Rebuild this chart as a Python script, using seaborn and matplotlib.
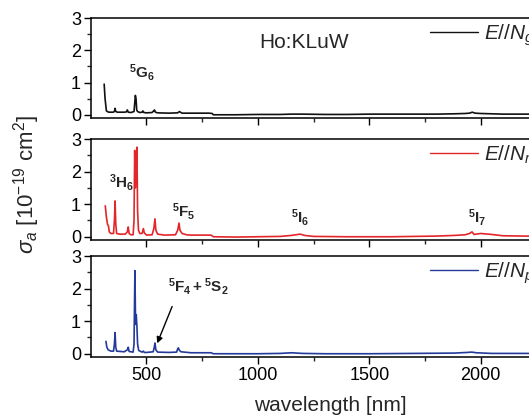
import matplotlib
matplotlib.use("Agg")
import matplotlib.pyplot as plt
import seaborn as sns
import pandas as pd

# ---- data ----
wl_g = [310, 314, 320, 330, 350, 356, 359, 362, 370, 400, 410, 414, 418, 430, 444, 447, 450, 453, 456,
        460, 470, 480, 484, 488, 500, 525, 532, 536, 540, 550, 600, 640, 648, 652, 660, 700, 780, 795,
        800, 900, 1000, 1100, 1150, 1200, 1300, 1400, 1500, 1600, 1700, 1800, 1880, 1930, 1950, 1962,
        1975, 2000, 2050, 2100, 2200, 2300, 2400]
sig_g = [0.95, 0.5, 0.12, 0.08, 0.08, 0.1, 0.2, 0.1, 0.08, 0.08, 0.09, 0.15, 0.08, 0.07, 0.1, 0.35, 0.6,
         0.5, 0.15, 0.1, 0.07, 0.08, 0.12, 0.07, 0.06, 0.07, 0.12, 0.15, 0.08, 0.06, 0.05, 0.06, 0.1,
         0.08, 0.05, 0.05, 0.05, 0.04, 0.0, 0.0, 0.01, 0.01, 0.02, 0.02, 0.01, 0.01, 0.02, 0.02, 0.02,
         0.02, 0.03, 0.04, 0.05, 0.08, 0.05, 0.04, 0.03, 0.02, 0.02, 0.02, 0.02]

wl_m = [315, 320, 325, 329, 333, 340, 352, 356, 359, 362, 366, 380, 405, 414, 418, 422, 430, 440, 444,
        447, 450, 453, 457, 460, 464, 470, 480, 486, 490, 500, 525, 533, 538, 542, 550, 580, 630, 640,
        646, 650, 660, 680, 700, 790, 800, 900, 1000, 1100, 1150, 1190, 1210, 1250, 1400, 1600, 1800,
        1880, 1930, 1950, 1961, 1970, 2000, 2050, 2100, 2200, 2400]
sig_m = [0.95, 0.6, 0.38, 0.34, 0.15, 0.1, 0.1, 0.5, 1.1, 0.4, 0.1, 0.08, 0.08, 0.15, 0.3, 0.1, 0.06,
         0.06, 0.5, 2.65, 1.5, 2.0, 2.75, 0.8, 0.2, 0.1, 0.1, 0.25, 0.12, 0.05, 0.06, 0.25, 0.55, 0.2,
         0.08, 0.05, 0.06, 0.2, 0.42, 0.2, 0.1, 0.06, 0.05, 0.05, 0.0, -0.01, 0.0, 0.01, 0.04, 0.08,
         0.04, 0.01, 0.0, 0.0, 0.02, 0.04, 0.06, 0.1, 0.15, 0.07, 0.1, 0.07, 0.03, 0.02, 0.02]

wl_p = [318, 322, 328, 340, 352, 356, 359, 362, 366, 400, 414, 418, 422, 440, 444, 448, 451, 454, 457,
        460, 465, 480, 486, 490, 500, 530, 535, 538, 542, 550, 600, 635, 640, 643, 648, 655, 700, 790,
        800, 900, 1000, 1100, 1150, 1200, 1300, 1500, 1700, 1880, 1940, 1960, 1980, 2050, 2200, 2400]
sig_p = [0.38, 0.2, 0.12, 0.08, 0.08, 0.3, 0.65, 0.2, 0.08, 0.06, 0.12, 0.2, 0.07, 0.05, 0.3, 2.55,
         0.9, 1.2, 0.85, 0.3, 0.1, 0.05, 0.08, 0.04, 0.04, 0.06, 0.2, 0.33, 0.12, 0.05, 0.04, 0.05,
         0.15, 0.18, 0.1, 0.06, 0.03, 0.03, 0.0, 0.0, 0.0, 0.01, 0.03, 0.01, 0.0, 0.0, 0.01, 0.02,
         0.04, 0.05, 0.03, 0.01, 0.01, 0.01]

series_labels = [r"$E//N_g$", r"$E//N_m$", r"$E//N_p$"]
series_colors = ["#111111", "#e3262a", "#233a9a"]

# ---- styling ----
sns.set_style("ticks")
plt.rcParams["font.family"] = ["Liberation Sans", "DejaVu Sans"]
plt.rcParams["mathtext.fontset"] = "custom"
plt.rcParams["mathtext.rm"] = "Liberation Sans"
plt.rcParams["mathtext.it"] = "Liberation Sans:italic"
plt.rcParams["mathtext.bf"] = "Liberation Sans:bold"
plt.rcParams["mathtext.sf"] = "Liberation Sans"

fig = plt.figure(figsize=(5.29, 4.19), dpi=100)
H = 419.0
W = 529.0
left = 90.8 / W
width = (569.8 - 90.8) / W
tops = [18, 139, 256]
bots = [118, 240, 357]

datasets = [(wl_g, sig_g), (wl_m, sig_m), (wl_p, sig_p)]
axes = []
for i, (wl, sg) in enumerate(datasets):
    ax = fig.add_axes([left, 1 - bots[i] / H, width, (bots[i] - tops[i]) / H])
    df = pd.DataFrame({"wavelength": wl, "sigma": sg})
    sns.lineplot(data=df, x="wavelength", y="sigma", ax=ax, color=series_colors[i],
                 linewidth=1.2, label=series_labels[i], sort=False)
    ax.set_xlim(250, 2400)
    ax.set_ylim(-0.1, 3)
    ax.set_yticks([0, 1, 2, 3])
    ax.set_yticks([0.5, 1.5, 2.5], minor=True)
    ax.set_xticks([500, 1000, 1500, 2000])
    ax.set_xticks([750, 1250, 1750, 2250], minor=True)
    ax.tick_params(axis="both", which="major", direction="out", length=5, width=1.0,
                   labelsize=13, pad=2, colors="black")
    ax.tick_params(axis="both", which="minor", direction="out", length=3, width=1.0)
    for s in ax.spines.values():
        s.set_visible(True)
        s.set_linewidth(1.1)
        s.set_color("black")
    ax.set_xlabel("")
    ax.set_ylabel("")
    if i < 2:
        ax.set_xticklabels([])
    leg = ax.legend(loc="upper left", bbox_to_anchor=(0.69, 1.04), frameon=False,
                    fontsize=15, handlelength=2.3, handletextpad=0.3, borderaxespad=0)
    for ln in leg.get_lines():
        ln.set_linewidth(1.0)
    axes.append(ax)

axes[2].set_xlabel("wavelength [nm]", fontsize=15, labelpad=9)
fig.text(27 / W, 1 - 185 / H, r"$\sigma_a\ [10^{-19}\ \mathrm{cm}^2]$", rotation=90,
         ha="center", va="center", fontsize=16)

axes[0].text(1205, 2.24, "Ho:KLuW", fontsize=15, ha="center", va="center")
axes[0].text(421, 1.3, r"$\mathbf{^5G_6}$", fontsize=11, ha="left", va="center")
axes[1].text(332, 1.65, r"$\mathbf{^3H_6}$", fontsize=11, ha="left", va="center")
axes[1].text(614, 0.78, r"$\mathbf{^5F_5}$", fontsize=11, ha="left", va="center")
axes[1].text(1147, 0.58, r"$\mathbf{^5I_6}$", fontsize=11, ha="left", va="center")
axes[1].text(1943, 0.58, r"$\mathbf{^5I_7}$", fontsize=11, ha="left", va="center")
axes[2].text(596, 2.05, r"$\mathbf{^5F_4+{}^5S_2}$", fontsize=11, ha="left", va="center")
axes[2].annotate("", xy=(548, 0.32), xytext=(615, 1.45),
                 arrowprops=dict(arrowstyle="-|>", color="black", lw=1.0,
                                 mutation_scale=9, shrinkA=0, shrinkB=0))

fig.savefig("out.png", dpi=100)
